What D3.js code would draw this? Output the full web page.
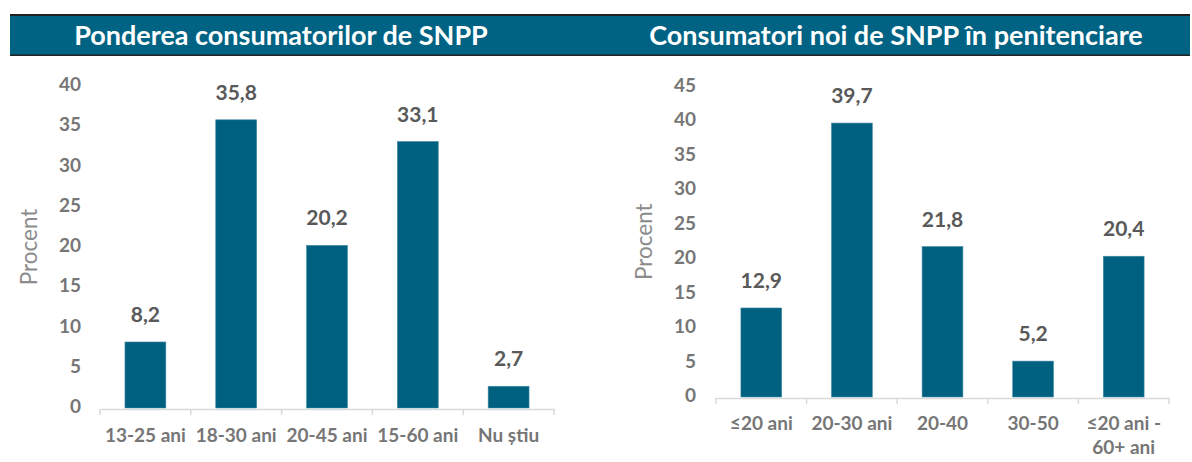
<!DOCTYPE html>
<html><head><meta charset="utf-8">
<script src="https://cdn.jsdelivr.net/npm/d3@7"></script>
<style>body{margin:0;background:#fff;}svg{display:block;font-family:Lato,"Open Sans",sans-serif;}</style>
</head><body>
<svg id="c" width="1192" height="462"></svg>
<script>
const leftTitle = "Ponderea consumatorilor de SNPP";
const leftCategories = ["13-25 ani", "18-30 ani", "20-45 ani", "15-60 ani", "Nu știu"];
const leftValues = [8.2, 35.8, 20.2, 33.1, 2.7];
const leftTicks = [0, 5, 10, 15, 20, 25, 30, 35, 40];

const rightTitle = "Consumatori noi de SNPP în penitenciare";
const rightCategories = [["≤20 ani"], ["20-30 ani"], ["20-40"], ["30-50"], ["≤20 ani -", "60+ ani"]];
const rightValues = [12.9, 39.7, 21.8, 5.2, 20.4];
const rightTicks = [0, 5, 10, 15, 20, 25, 30, 35, 40, 45];
const yTitle = "Procent";

const svg = d3.select("#c");
const barColor = "#006080";
const fmt = v => d3.format(".1f")(v).replace(".", ",");

// title bar
svg.append("rect").attr("x", 10).attr("y", 14).attr("width", 1180).attr("height", 42).attr("fill", "#222");
svg.append("rect").attr("x", 10).attr("y", 16).attr("width", 1180).attr("height", 38.5).attr("fill", "#006384");
svg.append("text").attr("x", 281).attr("y", 45).attr("text-anchor", "middle")
  .attr("fill", "#fff").attr("font-weight", "bold").attr("font-size", 27).text(leftTitle);
svg.append("text").attr("x", 896).attr("y", 45).attr("text-anchor", "middle")
  .attr("fill", "#fff").attr("font-weight", "bold").attr("font-size", 27).text(rightTitle);

function panel(cfg) {
  const g = svg.append("g");
  const x = d3.scaleBand().domain(cfg.cats.map((c, i) => i)).range([cfg.x0, cfg.x1]).paddingInner(0.55).paddingOuter(0.275);
  const xb = d3.scaleBand().domain(cfg.cats.map((c, i) => i)).range([cfg.x0, cfg.x1]);
  const y = d3.scaleLinear().domain([0, cfg.max]).range([cfg.y0, cfg.y1]);

  // y tick labels
  const ya = g.append("g").attr("transform", `translate(${cfg.x0},-1.5)`)
    .call(d3.axisLeft(y).tickValues(cfg.ticks).tickSize(0).tickPadding(cfg.tickPad));
  ya.select(".domain").remove();
  ya.selectAll("text").attr("fill", "#767676").attr("font-size", 19).attr("font-weight", "bold")
    .attr("font-family", "Lato,sans-serif");

  // bars
  g.selectAll("rect.bar").data(cfg.vals).join("rect").attr("class", "bar")
    .attr("x", (d, i) => x(i)).attr("width", x.bandwidth())
    .attr("y", d => y(d)).attr("height", d => y(0) - y(d))
    .attr("fill", barColor).attr("stroke", "#3f87a3").attr("stroke-width", 0.6);

  // value labels
  g.selectAll("text.val").data(cfg.vals).join("text").attr("class", "val")
    .attr("x", (d, i) => x(i) + x.bandwidth() / 2).attr("y", d => y(d) - 20)
    .attr("text-anchor", "middle").attr("fill", "#595959").attr("font-size", 21).attr("font-weight", "bold")
    .text(d => fmt(d));

  // x axis
  const xa = g.append("g").attr("transform", `translate(0,${cfg.y0 + 1})`)
    .call(d3.axisBottom(xb).tickSize(0).tickFormat(""));
  xa.select(".domain").attr("stroke", "#d9d9d9").attr("stroke-width", 1.5);
  g.selectAll("line.tk").data(d3.range(cfg.cats.length + 1)).join("line").attr("class", "tk")
    .attr("x1", i => cfg.x0 + i * xb.step()).attr("x2", i => cfg.x0 + i * xb.step())
    .attr("y1", cfg.y0 + 1).attr("y2", cfg.y0 + 7).attr("stroke", "#d9d9d9").attr("stroke-width", 1.5);

  // category labels
  cfg.cats.forEach((c, i) => {
    const lines = Array.isArray(c) ? c : [c];
    const t = g.append("text").attr("text-anchor", "middle").attr("fill", "#767676")
      .attr("font-size", 19).attr("font-weight", "bold");
    lines.forEach((ln, k) => {
      t.append("tspan").attr("x", xb(i) + xb.bandwidth() / 2).attr("y", cfg.y0 + cfg.labDy + k * 24).text(ln);
    });
  });

  // y title
  g.append("text").attr("transform", `translate(${cfg.titleX},${(cfg.y0 + cfg.y1) / 2}) rotate(-90)`)
    .attr("text-anchor", "middle").attr("fill", "#8c8c8c").attr("font-size", 22.5).text(yTitle);
}

panel({cats: leftCategories, vals: leftValues, ticks: leftTicks, max: 40,
  x0: 100, x1: 554, y0: 408, y1: 86, tickPad: 19, titleX: 37, labDy: 34});
panel({cats: rightCategories, vals: rightValues, ticks: rightTicks, max: 45,
  x0: 716, x1: 1169, y0: 397, y1: 86.5, tickPad: 20, titleX: 652, labDy: 33});
</script>
</body></html>
